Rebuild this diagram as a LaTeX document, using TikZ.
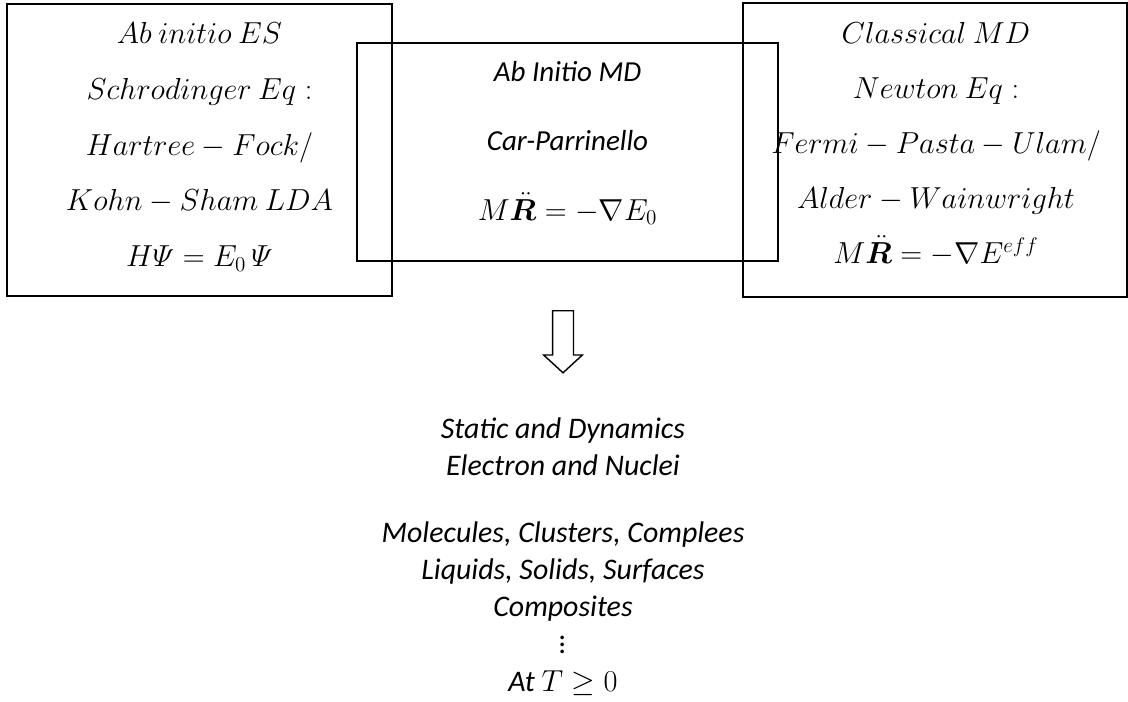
\documentclass[tikz,border=0pt]{standalone}
\usepackage{amsmath}
\usepackage{bm}
\usepackage{fontspec}
\setmainfont{Carlito}
\usetikzlibrary{shapes.arrows}
\tikzset{
    box/.style={draw, line width=1.1pt, inner sep=0pt},
    mtxt/.style={align=center, font=\fontsize{16.5}{31.7}\selectfont},
    ctxt/.style={align=center, font=\fontsize{17}{21.1}\selectfont\itshape}
}

\begin{document}
\begin{tikzpicture}
        \useasboundingbox (0.00, 0.00) rectangle (22.56,-14.04);
            \node[box, minimum width=7.70cm, minimum height=5.84cm] (es)   at ( 3.99,-3.00) {};
            \node[box, minimum width=8.42cm, minimum height=4.36cm] (aimd) at (11.35,-3.04) {};
            \node[box, minimum width=7.68cm, minimum height=5.88cm] (cmd)  at (18.70,-3.00) {};
            \node[mtxt] (estxt) at ( 3.99,-2.94)
                {$Ab\ initio\ ES$\\ $Schrodinger\ Eq:$\\ $Hartree - Fock/$\\ $Kohn - Sham\ LDA$\\ $H\varPsi = E_0\,\varPsi$};
            \node[mtxt, font=\fontsize{16.5}{39.4}\selectfont] (aimdtxt) at (11.35,-2.86)
                {\itshape Ab Initio MD\\ \itshape Car-Parrinello\\ $M\ddot{\bm{R}} = -\nabla E_0$};
            \node[mtxt, font=\fontsize{16.5}{31.3}\selectfont] (cmdtxt) at (18.72,-2.88)
                {$Classical\ MD$\\ $Newton\ Eq:$\\ $Fermi - Pasta - Ulam/$\\ $Alder - Wainwright$\\ $M\ddot{\bm{R}} = -\nabla E^{eff}$};
            \node[draw, line width=0.8pt, single arrow, shape border rotate=270, inner sep=0.195cm,
                  minimum height=1.24cm, single arrow head extend=0.18cm,
                  single arrow tip angle=95, single arrow head indent=0pt] (arrow) at (11.26,-6.74) {};
            \node[ctxt] (apps) at (11.26,-11.13)
                {Static and Dynamics\\ Electron and Nuclei\\[0.6cm] Molecules, Clusters, Complees\\ Liquids, Solids, Surfaces\\ Composites\\ $\vdots$\\ At $T \geq 0$};
        \end{tikzpicture}
\end{document}
